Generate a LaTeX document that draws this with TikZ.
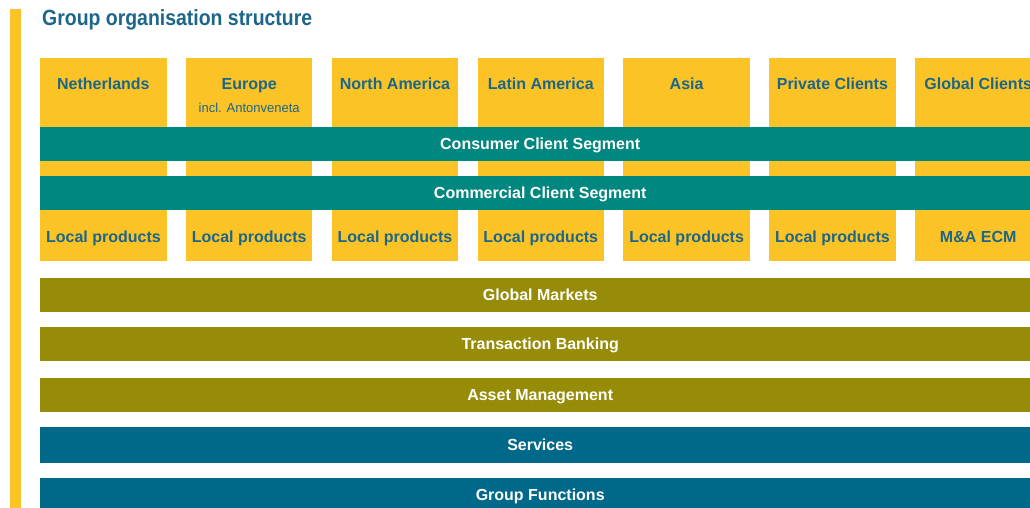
\documentclass[tikz,border=0pt]{standalone}
\usepackage{fontspec}
\setmainfont{Liberation Sans}
\definecolor{ayellow}{HTML}{FBC326}
\definecolor{ateal}{HTML}{00877F}
\definecolor{aolive}{HTML}{978C07}
\definecolor{ablue}{HTML}{006888}
\definecolor{atext}{HTML}{1C6689}
\begin{document}
\begin{tikzpicture}[x=1pt,y=-1pt,
  colbox/.style={fill=ayellow, draw=none, anchor=north west, minimum width=126.4pt, minimum height=203pt, inner sep=0pt},
  band/.style={draw=none, anchor=north west, minimum width=1000pt, minimum height=34.4pt, inner sep=0pt, text=white, text height=11.6pt, text depth=0.6pt, font=\bfseries\fontsize{16}{16}\selectfont},
  lbl/.style={text=atext, font=\bfseries\fontsize{16}{16}\selectfont, inner sep=0pt, text height=11.6pt, text depth=0.6pt},
  sublbl/.style={text=atext, font=\fontsize{13}{14}\selectfont, inner sep=0pt},
]
\useasboundingbox (0,0) rectangle (1030,508);
\clip (0,0) rectangle (1030,508);
\fill[white] (0,0) rectangle (1030,508);
% left bar
\fill[ayellow] (10,9) rectangle (21.3,508);
% title
\node[anchor=base west, inner sep=0pt, text=atext] (title) at (42,25.5)
  {\resizebox{270pt}{\height}{\bfseries\fontsize{22}{22}\selectfont Group organisation structure}};
% columns
\foreach \i in {0,...,6} {
  \node[colbox] (c\i) at ({40+145.8*\i},58) {};
}
% column headings
\node[lbl] (h0) at (c0.north |- 0,84.5) {Netherlands};
\node[lbl] (h1) at (c1.north |- 0,84.5) {Europe};
\node[sublbl] (h1b) at (c1.north |- 0,107.5) {incl. Antonveneta};
\node[lbl] (h2) at (c2.north |- 0,84.5) {North America};
\node[lbl] (h3) at (c3.north |- 0,84.5) {Latin America};
\node[lbl] (h4) at (c4.north |- 0,84.5) {Asia};
\node[lbl] (h5) at (c5.north |- 0,84.5) {Private Clients};
\node[lbl] (h6) at (c6.north |- 0,84.5) {Global Clients};
% product row
\foreach \i in {0,...,5} {
  \node[lbl] (p\i) at (c\i.north |- 0,236.5) {Local products};
}
\node[lbl] (p6) at (c6.north |- 0,236.5) {M\&A ECM};
% segment bands
\node[band, fill=ateal, minimum height=34pt] (cons) at (40,126.5) {Consumer Client Segment};
\node[band, fill=ateal, minimum height=34pt] (comm) at (40,176) {Commercial Client Segment};
% lower bands
\node[band, fill=aolive] (gm) at (40,277.3) {Global Markets};
\node[band, fill=aolive] (tb) at (40,326.7) {Transaction Banking};
\node[band, fill=aolive] (am) at (40,377.3) {Asset Management};
\node[band, fill=ablue, minimum height=35.6pt] (sv) at (40,426.7) {Services};
\node[band, fill=ablue, minimum height=35.6pt] (gf) at (40,477.3) {Group Functions};
\end{tikzpicture}
\end{document}
